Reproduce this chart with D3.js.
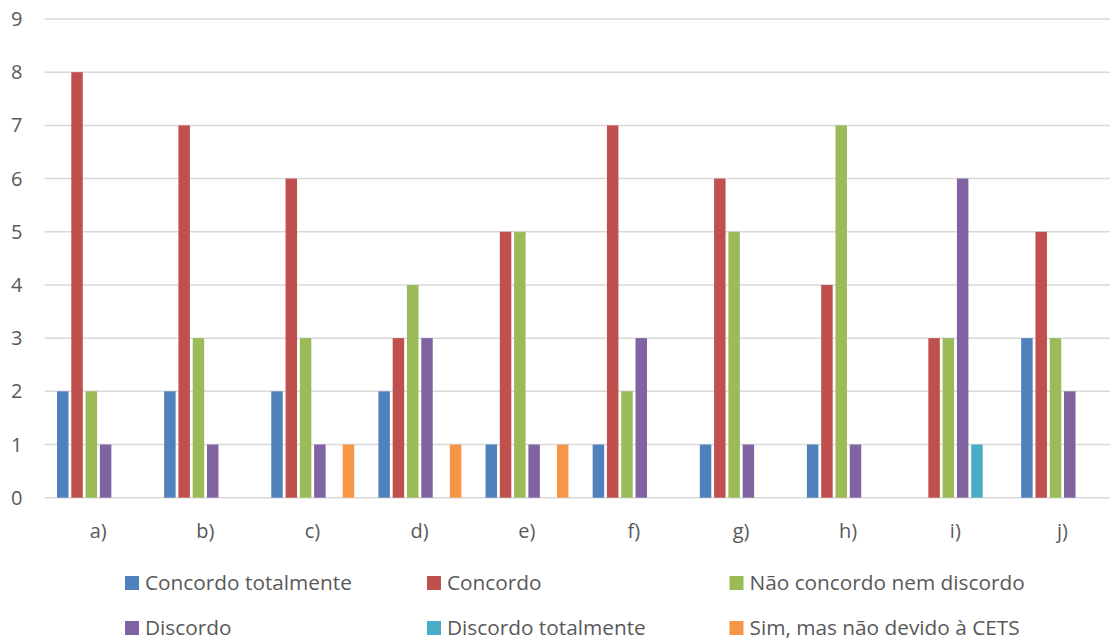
<!DOCTYPE html>
<html>
<head>
<meta charset="utf-8">
<script src="https://cdn.jsdelivr.net/npm/d3@7"></script>
<style>
  html, body { margin: 0; padding: 0; background: #fff; }
  svg { display: block; }
  text { font-family: "Open Sans", "Noto Sans", sans-serif; fill: #595959; }
</style>
</head>
<body>
<svg id="chart" width="1110" height="641"></svg>
<script>
// Question items
const categories = ["a)", "b)", "c)", "d)", "e)", "f)", "g)", "h)", "i)", "j)"];

// Response options (legend order)
const seriesNames = [
  "Concordo totalmente",
  "Concordo",
  "Não concordo nem discordo",
  "Discordo",
  "Discordo totalmente",
  "Sim, mas não devido à CETS"
];
const seriesColors = ["#4F81BD", "#C0504D", "#9BBB59", "#8064A2", "#4BACC6", "#F79646"];

// Answer counts per item, one array per response option
const concordoTotalmente = [2, 2, 2, 2, 1, 1, 1, 1, 0, 3];
const concordo           = [8, 7, 6, 3, 5, 7, 6, 4, 3, 5];
const naoConcordoNem     = [2, 3, 3, 4, 5, 2, 5, 7, 3, 3];
const discordo           = [1, 1, 1, 3, 1, 3, 1, 1, 6, 2];
const discordoTotalmente = [0, 0, 0, 0, 0, 0, 0, 0, 1, 0];
const simMasNao          = [0, 0, 1, 1, 1, 0, 0, 0, 0, 0];

const yTicks = [0, 1, 2, 3, 4, 5, 6, 7, 8, 9];

const seriesValues = [concordoTotalmente, concordo, naoConcordoNem, discordo, discordoTotalmente, simMasNao];

const svg = d3.select("#chart");
const plot = { left: 44.7, right: 1116, top: 19, bottom: 497.7 };

const x0 = d3.scaleBand().domain(categories).range([plot.left, plot.right]).paddingInner(0).paddingOuter(0);
const x1 = d3.scaleBand().domain(d3.range(seriesNames.length))
  .range([0, x0.bandwidth()]).paddingOuter(0.75).paddingInner(0);
const y = d3.scaleLinear().domain([0, 9]).range([plot.bottom, plot.top]);

// Horizontal gridlines
svg.append("g").selectAll("line").data(yTicks).join("line")
  .attr("x1", plot.left).attr("x2", 1110)
  .attr("y1", d => y(d)).attr("y2", d => y(d))
  .attr("stroke", "#d9d9d9").attr("stroke-width", 1.5);

// Y tick labels
svg.append("g").selectAll("text").data(yTicks).join("text")
  .attr("x", 22.5).attr("y", d => y(d)).attr("dy", "0.35em")
  .attr("text-anchor", "end").attr("font-size", 20)
  .text(d => d);

// Bars, one group per item
const groups = svg.append("g").selectAll("g").data(categories).join("g")
  .attr("transform", d => `translate(${x0(d)},0)`);

groups.selectAll("rect")
  .data((c, i) => seriesValues.map((vals, s) => ({ s, v: vals[i] })).filter(d => d.v > 0))
  .join("rect")
  .attr("x", d => x1(d.s) + 1.6)
  .attr("width", x1.bandwidth() - 2.8)
  .attr("y", d => y(d.v))
  .attr("height", d => y(0) - y(d.v))
  .attr("fill", d => seriesColors[d.s]);

// Category labels
svg.append("g").selectAll("text").data(categories).join("text")
  .attr("x", d => x0(d) + x0.bandwidth() / 2).attr("y", 538)
  .attr("text-anchor", "middle").attr("font-size", 20)
  .text(d => d);

// Legend: two rows of three
const legendCols = [125, 427, 729.5];
const legendRows = [583, 628];
const legend = svg.append("g").selectAll("g").data(seriesNames).join("g")
  .attr("transform", (d, i) => `translate(${legendCols[i % 3]},${legendRows[Math.floor(i / 3)]})`);
legend.append("rect")
  .attr("x", 0).attr("y", -7).attr("width", 14).attr("height", 14)
  .attr("fill", (d, i) => seriesColors[i]);
legend.append("text")
  .attr("x", 20).attr("y", 0).attr("dy", "0.35em")
  .attr("font-size", 20.8)
  .text(d => d);
</script>
</body>
</html>
